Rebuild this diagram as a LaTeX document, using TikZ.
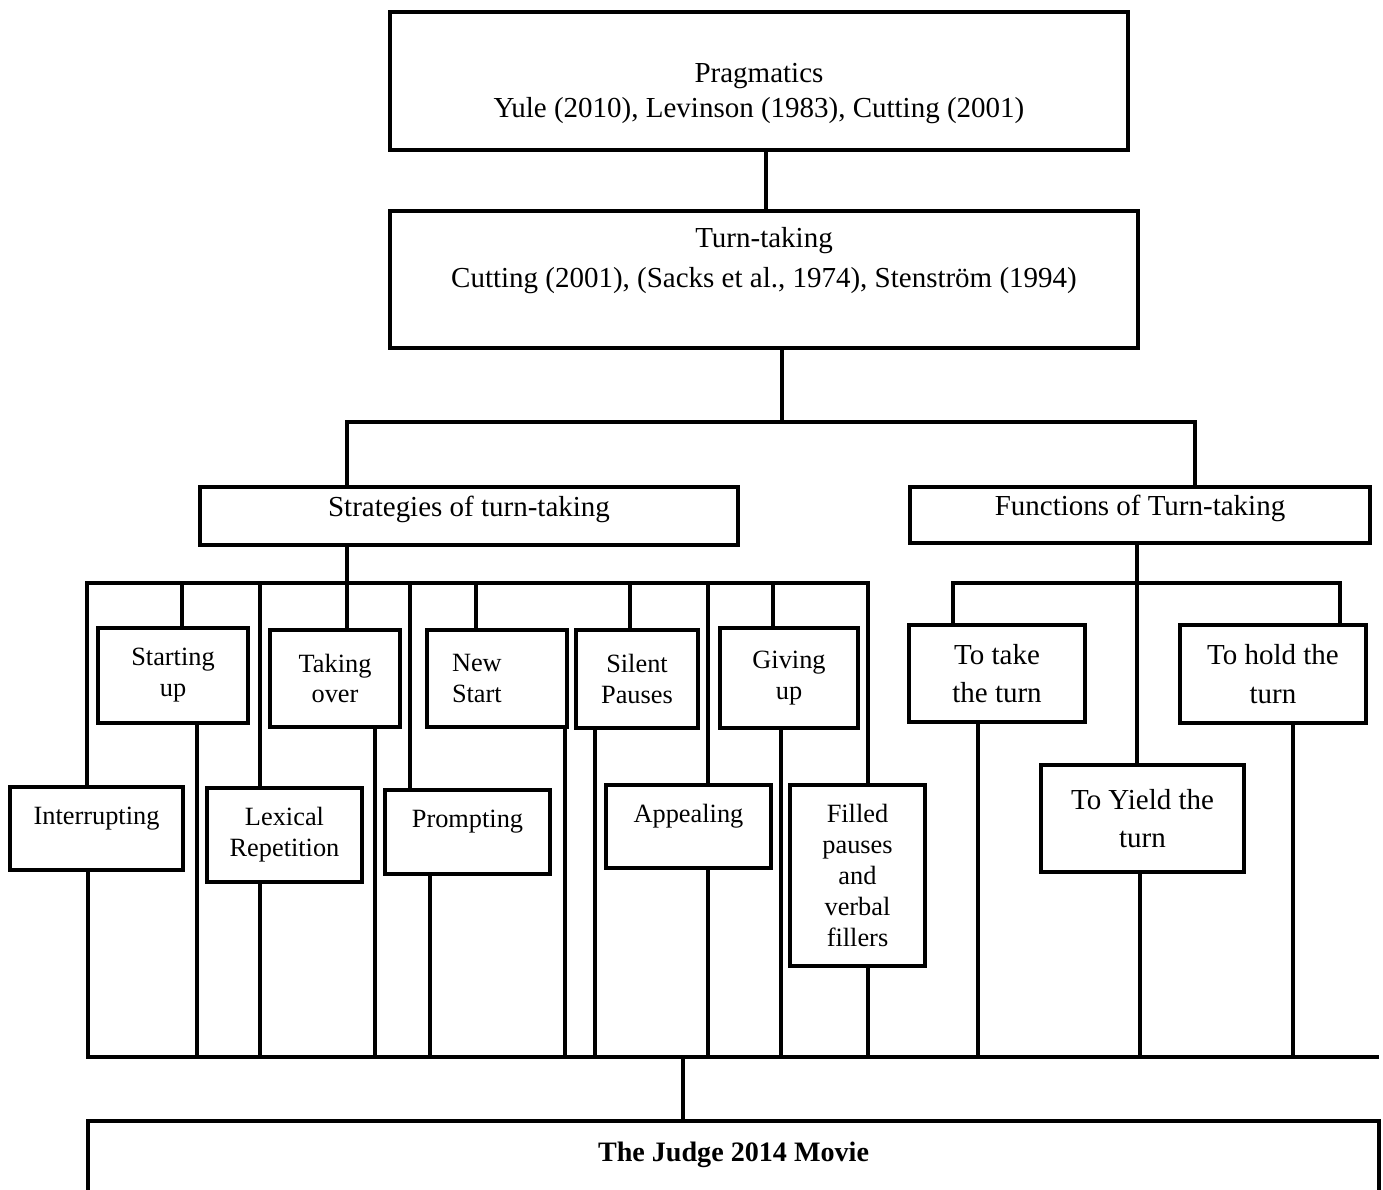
\documentclass[tikz,border=0pt]{standalone}
\usepackage{fontspec}
\setmainfont{Liberation Serif}
\tikzset{
  box/.style={draw, line width=2.6pt, inner sep=0pt, align=center},
  wh/.style 2 args={minimum width=#1*0.02cm, minimum height=#2*0.02cm},
  link/.style={line width=2.6pt},
  bigtxt/.style={font=\fontsize{16.5}{19.8}\selectfont},
  midtxt/.style={font=\fontsize{16.5}{22}\selectfont},
  smalltxt/.style={font=\fontsize{15}{17.6}\selectfont},
}

\begin{document}
\begin{tikzpicture}[x=0.02cm, y=-0.02cm]
  \useasboundingbox (0,0) rectangle (1383,1190);

  % top of the tree
  \node[box, bigtxt, wh={738}{138}] (prag) at (759,81) {\rule{0pt}{25pt}Pragmatics\\Yule (2010), Levinson (1983), Cutting (2001)};
  \node[box, font=\fontsize{16.5}{22.7}\selectfont, wh={748}{137}, text depth=25pt] (turn) at (764,279.5) {Turn-taking\\Cutting (2001), (Sacks et al., 1974), Stenström (1994)};
  \node[box, bigtxt, wh={538}{58}, text depth=11pt] (strat) at (469,516) {Strategies of turn-taking};
  \node[box, bigtxt, wh={460}{56}, text depth=11pt] (func) at (1140,515) {Functions of Turn-taking};

  % strategies
  \node[box, smalltxt, wh={150}{95}] (start) at (173,675.5) {Starting\\up};
  \node[box, smalltxt, wh={130}{97}] (takeo) at (335,678.5) {Taking\\over};
  \node[box, smalltxt, wh={140}{97}, text width=1.8cm, inner xsep=0.5cm, align=left] (newst) at (497,678.5) {New\\Start};
  \node[box, smalltxt, wh={122}{98}] (silent) at (637,679) {Silent\\Pauses};
  \node[box, smalltxt, wh={138}{100}] (givup) at (789,678) {Giving\\up};
  \node[box, smalltxt, wh={173}{83}, text depth=15pt] (intr) at (96.5,828.5) {Interrupting};
  \node[box, smalltxt, wh={155}{94}] (lexrep) at (284.5,835) {Lexical\\Repetition};
  \node[box, smalltxt, wh={165}{84}, text depth=15pt] (prompt) at (467.5,832) {Prompting};
  \node[box, smalltxt, wh={165}{83}, text depth=15pt] (appeal) at (688.5,826.5) {Appealing};
  \node[box, smalltxt, wh={135}{181}] (filled) at (857.5,875.5) {Filled\\pauses\\and\\verbal\\fillers};

  % functions
  \node[box, midtxt, wh={176}{97}] (take) at (997,673.5) {To take\\the turn};
  \node[box, midtxt, wh={186}{98}] (hold) at (1273,674) {To hold the\\turn};
  \node[box, midtxt, wh={203}{107}] (yield) at (1142.5,818.5) {To Yield the\\turn};

  % data
  \node[box, font=\fontsize{16}{19}\selectfont\bfseries, wh={1291}{119}, text depth=33pt] (judge) at (733.5,1180.5) {The Judge 2014 Movie};

  % bus points
  \coordinate (tbus) at (782,422);
  \coordinate (sbus) at (347,583);
  \coordinate (fbus) at (1137,583);
  \coordinate (bbus) at (683,1057);
  \coordinate (bend) at (1379,1057);

  \draw[link] (prag.south -| 766,0) -- (turn.north -| 766,0);
  \draw[link] (turn.south -| tbus) -- (tbus);
  \draw[link] (strat.north -| sbus) |- (tbus);
  \draw[link] (func.north -| 1195,0) |- (tbus);
  \draw[link] (strat.south -| sbus) -- (sbus);
  \foreach \n/\x in {intr/87, start/182, lexrep/260, takeo/347, prompt/410, newst/476, silent/630, appeal/708, givup/773, filled/868}
    \draw[link] (\n.north -| \x,0) |- (sbus);
  \draw[link] (func.south -| fbus) -- (yield.north -| fbus);
  \foreach \n/\x in {take/953, hold/1340}
    \draw[link] (\n.north -| \x,0) |- (fbus);

  % down to the movie
  \foreach \n/\x in {intr/88, start/197, lexrep/260, takeo/375, prompt/430, newst/565, silent/595, appeal/708, givup/781, filled/868, take/978, yield/1140, hold/1293}
    \draw[link] (\n.south -| \x,0) |- (bbus);
  \draw[link] (bbus) -- (bend);
  \draw[line width=1.8pt] (bbus) -- (judge.north -| bbus);
\end{tikzpicture}
\end{document}
